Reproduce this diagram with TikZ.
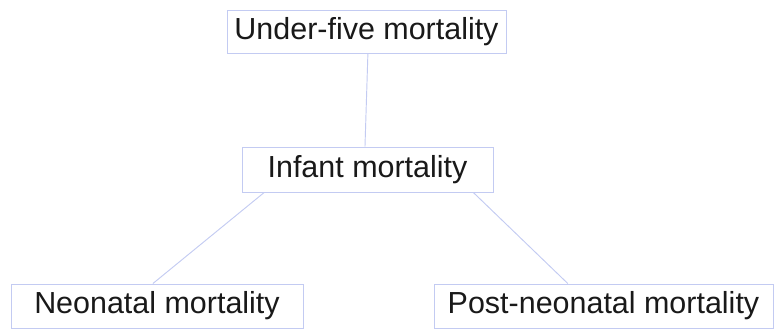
\documentclass[tikz,border=0pt]{standalone}
\usepackage{fontspec}
\setmainfont{Liberation Sans}
\usetikzlibrary{positioning, calc}
\definecolor{boxline}{HTML}{C3CBF2}

\begin{document}
\begin{tikzpicture}[
    x=0.03cm, y=-0.03cm,
    level/.style={rectangle, draw=boxline, line width=0.8pt, fill=white, inner sep=0pt, font=\fontsize{26}{30}\selectfont, text=black!90},
    link/.style={draw=boxline, line width=0.8pt}
]
\useasboundingbox (0,0) rectangle (774,329);

% Top
\node[level, minimum width=8.37cm, minimum height=1.29cm] (underfive) at (366.5,31.5) {Under-five mortality};

% Middle
\node[level, minimum width=7.53cm, minimum height=1.35cm] (infant) at (367.5,169.5) {Infant mortality};

% Bottom
\node[level, minimum width=8.76cm, minimum height=1.32cm] (neonatal) at (157,306) {Neonatal mortality};
\node[level, minimum width=10.17cm, minimum height=1.32cm] (postneonatal) at (603.5,306) {Post-neonatal mortality};

% Connections
\draw[link] ($(underfive.south west)!0.505!(underfive.south east)$) -- ($(infant.north west)!0.49!(infant.north east)$);
\draw[link] ($(infant.south west)!0.09!(infant.south east)$) -- ($(neonatal.north west)!0.486!(neonatal.north east)$);
\draw[link] ($(infant.south west)!0.92!(infant.south east)$) -- ($(postneonatal.north west)!0.395!(postneonatal.north east)$);

\end{tikzpicture}
\end{document}
